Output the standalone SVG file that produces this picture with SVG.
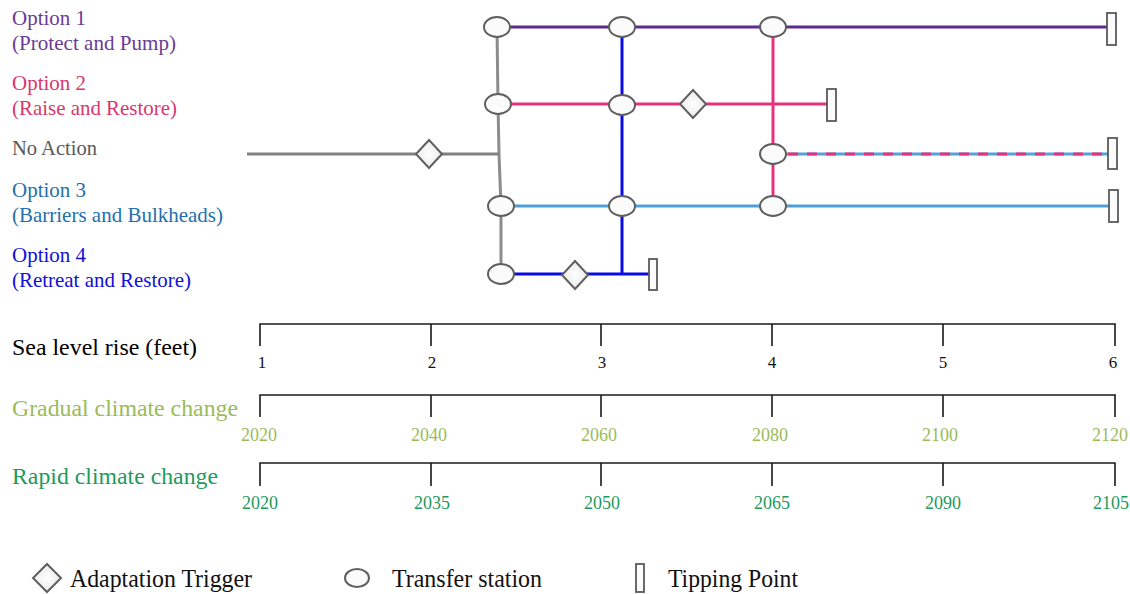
<svg xmlns="http://www.w3.org/2000/svg" width="1130" height="594" viewBox="0 0 1130 594">
<defs>
<style>
text{font-family:"Liberation Serif","Times New Roman",serif}
.lbl{font-size:21px}
.axt{font-size:24px}
.tick{font-size:17px;text-anchor:middle}
.yr{font-size:18px;text-anchor:middle}
.ax{stroke:#1a1a1a;stroke-width:1.6;fill:none}
.st{fill:#fbfbfb;stroke:#5f5f5f;stroke-width:2}
.tr{fill:url(#dg);stroke:#5f5f5f;stroke-width:2}
.tp{fill:#fbfbfb;stroke:#5a5a5a;stroke-width:1.8}
.ln{fill:none;stroke-width:3}
.leg{font-size:25px}
</style>
<radialGradient id="dg" cx="0.5" cy="0.5" r="0.6">
<stop offset="0" stop-color="#ffffff"/>
<stop offset="1" stop-color="#e6e6e6"/>
</radialGradient>
</defs>
<rect width="1130" height="594" fill="#ffffff"/>

<g id="labels">
<text class="lbl" x="12" y="25" fill="#6a3b96" textLength="74" lengthAdjust="spacingAndGlyphs">Option 1</text>
<text class="lbl" x="12" y="50" fill="#6a3b96" textLength="164" lengthAdjust="spacingAndGlyphs">(Protect and Pump)</text>
<text class="lbl" x="12" y="90" fill="#d8386d" textLength="74" lengthAdjust="spacingAndGlyphs">Option 2</text>
<text class="lbl" x="12" y="115" fill="#d8386d" textLength="165" lengthAdjust="spacingAndGlyphs">(Raise and Restore)</text>
<text class="lbl" x="12" y="155" fill="#595959" textLength="85" lengthAdjust="spacingAndGlyphs">No Action</text>
<text class="lbl" x="12" y="197" fill="#2470ab" textLength="74" lengthAdjust="spacingAndGlyphs">Option 3</text>
<text class="lbl" x="12" y="222" fill="#2470ab" textLength="211" lengthAdjust="spacingAndGlyphs">(Barriers and Bulkheads)</text>
<text class="lbl" x="12" y="262" fill="#1010d8" textLength="74" lengthAdjust="spacingAndGlyphs">Option 4</text>
<text class="lbl" x="12" y="287" fill="#1010d8" textLength="179" lengthAdjust="spacingAndGlyphs">(Retreat and Restore)</text>
</g>

<g id="connectors">
<polyline class="ln" points="497,27 498,104 499,154 501,207 501,274" stroke="#8c8c8c" stroke-width="2.5"/>
<line class="ln" x1="247" y1="154" x2="499" y2="154" stroke="#808080"/>
<line class="ln" x1="497" y1="27" x2="1108" y2="27" stroke="#5e2b8f"/>
<line class="ln" x1="498" y1="104" x2="828" y2="104" stroke="#e6327c"/>
<line class="ln" x1="501" y1="206" x2="1110" y2="206" stroke="#4d9fd6" stroke-width="3.5"/>
<line class="ln" x1="501" y1="274" x2="649" y2="274" stroke="#0a0ae6" stroke-width="3.5"/>
<line class="ln" x1="622" y1="27" x2="622" y2="274" stroke="#0a0ae6"/>
<line class="ln" x1="773" y1="27" x2="773" y2="206" stroke="#e6327c"/>
<line class="ln" x1="773" y1="154" x2="1108" y2="154" stroke="#55a3d6" stroke-width="3.5"/>
<line class="ln" x1="788" y1="154" x2="1108" y2="154" stroke="#e6327c" stroke-width="3.5" stroke-dasharray="10 9"/>
</g>

<g id="option1">
<ellipse class="st" cx="497" cy="27" rx="13" ry="10"/>
<ellipse class="st" cx="622" cy="27" rx="13" ry="10"/>
<ellipse class="st" cx="773" cy="27" rx="13" ry="10"/>
<rect class="tp" x="1107" y="13" width="9" height="32"/>
</g>
<g id="option2">
<ellipse class="st" cx="498" cy="104" rx="13" ry="10"/>
<ellipse class="st" cx="622" cy="105" rx="13" ry="10"/>
<polygon class="tr" points="693,90 706,104 693,118 680,104"/>
<rect class="tp" x="827" y="89" width="9" height="32"/>
</g>
<g id="no-action">
<polygon class="tr" points="429,140 442,154 429,168 416,154"/>
<ellipse class="st" cx="773" cy="154" rx="13" ry="10"/>
<rect class="tp" x="1108" y="138" width="9" height="31"/>
</g>
<g id="option3">
<ellipse class="st" cx="501" cy="206" rx="13" ry="10"/>
<ellipse class="st" cx="622" cy="206" rx="13" ry="10"/>
<ellipse class="st" cx="773" cy="206" rx="13" ry="10"/>
<rect class="tp" x="1109" y="190" width="9" height="32"/>
</g>
<g id="option4">
<ellipse class="st" cx="501" cy="274" rx="13" ry="10"/>
<polygon class="tr" points="575,261 588,275 575,289 562,275"/>
<rect class="tp" x="649" y="259" width="8" height="31"/>
</g>

<g id="axis-sea-level">
<text class="axt" x="12" y="355" fill="#000000" textLength="185" lengthAdjust="spacingAndGlyphs">Sea level rise (feet)</text>
<path class="ax" d="M260,346 V324 H1115 V346 M431,324 V346 M601,324 V346 M772,324 V346 M943,324 V346"/>
<g fill="#111111">
<text class="tick" x="262" y="368">1</text>
<text class="tick" x="432" y="368">2</text>
<text class="tick" x="602" y="368">3</text>
<text class="tick" x="772" y="368">4</text>
<text class="tick" x="943" y="368">5</text>
<text class="tick" x="1113" y="368">6</text>
</g>
</g>

<g id="axis-gradual">
<text class="axt" x="12" y="416" fill="#9bbb59" textLength="226" lengthAdjust="spacingAndGlyphs">Gradual climate change</text>
<path class="ax" d="M260,417 V395 H1115 V417 M431,395 V417 M601,395 V417 M772,395 V417 M943,395 V417"/>
<g fill="#9bbb59">
<text class="yr" x="259" y="441">2020</text>
<text class="yr" x="429" y="441">2040</text>
<text class="yr" x="599" y="441">2060</text>
<text class="yr" x="770" y="441">2080</text>
<text class="yr" x="940" y="441">2100</text>
<text class="yr" x="1110" y="441">2120</text>
</g>
</g>

<g id="axis-rapid">
<text class="axt" x="12" y="484" fill="#1e9a5c" textLength="206" lengthAdjust="spacingAndGlyphs">Rapid climate change</text>
<path class="ax" d="M260,486 V463 H1115 V486 M431,463 V486 M601,463 V486 M772,463 V486 M943,463 V486"/>
<g fill="#1e9a5c">
<text class="yr" x="260" y="509">2020</text>
<text class="yr" x="432" y="509">2035</text>
<text class="yr" x="602" y="509">2050</text>
<text class="yr" x="772" y="509">2065</text>
<text class="yr" x="943" y="509">2090</text>
<text class="yr" x="1111" y="509">2105</text>
</g>
</g>

<g id="legend">
<polygon class="tr" points="47,564 61,578 47,592 33,578"/>
<text class="leg" x="70" y="587" fill="#111111" textLength="182" lengthAdjust="spacingAndGlyphs">Adaptation Trigger</text>
<ellipse class="st" cx="357" cy="578" rx="12" ry="9"/>
<text class="leg" x="392" y="587" fill="#111111" textLength="150" lengthAdjust="spacingAndGlyphs">Transfer station</text>
<rect class="tp" x="636" y="564" width="8" height="28"/>
<text class="leg" x="668" y="587" fill="#111111" textLength="130" lengthAdjust="spacingAndGlyphs">Tipping Point</text>
</g>
</svg>
